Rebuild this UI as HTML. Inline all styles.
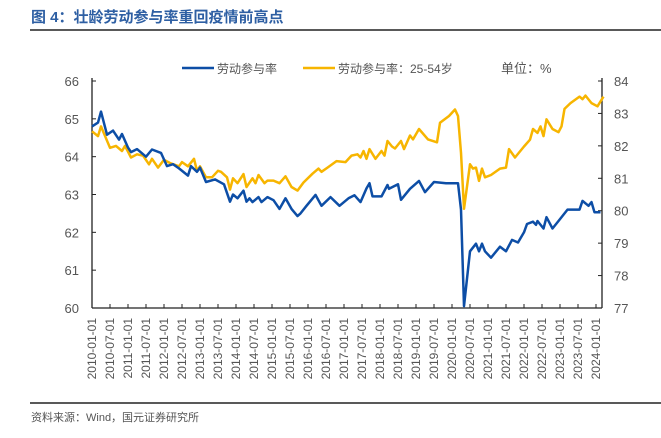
<!DOCTYPE html>
<html><head><meta charset="utf-8"><style>
body{margin:0;background:#fff;}
svg text{font-family:"Liberation Sans","Noto Sans CJK SC",sans-serif;}
</style></head><body>
<svg width="661" height="433" xmlns="http://www.w3.org/2000/svg">
<text x="31" y="22" font-size="15" font-weight="bold" fill="#2e5fa3">图 4：壮龄劳动参与率重回疫情前高点</text>
<line x1="30" y1="30" x2="661" y2="30" stroke="#222" stroke-width="1.5"/>
<g id="legend">
<line x1="182" y1="68" x2="214" y2="68" stroke="#0d4ea6" stroke-width="2.5"/>
<text x="217" y="73" font-size="12" fill="#555">劳动参与率</text>
<line x1="303" y1="68" x2="335" y2="68" stroke="#f7b500" stroke-width="2.5"/>
<text x="338" y="73" font-size="12" fill="#555">劳动参与率：25-54岁</text>
<text x="501" y="73" font-size="13" fill="#555">单位：%</text>
</g>
<g id="axes"></g>
<g id="series"></g>
<line x1="30" y1="403" x2="661" y2="403" stroke="#222" stroke-width="1.5"/>
<text x="31" y="421" font-size="11" fill="#555">资料来源：Wind，国元证券研究所</text>
</svg>
<script>
const leftTicks=[60,61,62,63,64,65,66];
const rightTicks=[77,78,79,80,81,82,83,84];
const xLabels=["2010-01-01","2010-07-01","2011-01-01","2011-07-01","2012-01-01","2012-07-01","2013-01-01","2013-07-01","2014-01-01","2014-07-01","2015-01-01","2015-07-01","2016-01-01","2016-07-01","2017-01-01","2017-07-01","2018-01-01","2018-07-01","2019-01-01","2019-07-01","2020-01-01","2020-07-01","2021-01-01","2021-07-01","2022-01-01","2022-07-01","2023-01-01","2023-07-01","2024-01-01"];
const totalMonths=[0,2,3,5,7,9,10,12,13,15,18,20,23,25,27,29,32,33,35,36,38,41,44,46,47,48.5,50.5,51.5,52.5,53.5,55.5,56.5,58.5,60.5,62.5,64.5,66.5,68.5,69.5,71.5,74.5,76.5,79.5,82.5,85.5,87.5,89.5,91.5,92.5,93.5,96.5,98.5,99,102,103,106,109,111,114,118,121,122,123,124,126,128,129,130,131,133,136,138,140,142,144,145,147,148,148.5,150.5,151.5,153.5,155.5,158.5,162.5,163.5,165.5,166.5,167.5,169.5];
const totalValues=[64.8,64.9,65.19,64.58,64.69,64.45,64.6,64.24,64.12,64.2,64.0,64.19,64.1,63.75,63.8,63.69,63.5,63.75,63.6,63.71,63.33,63.4,63.27,62.81,63.0,62.9,63.1,62.81,62.9,62.8,62.93,62.8,62.93,62.85,62.62,62.9,62.62,62.43,62.5,62.7,62.99,62.7,62.93,62.7,62.9,62.98,62.8,63.16,63.3,62.95,62.95,63.25,63.15,63.27,62.86,63.15,63.36,63.06,63.33,63.3,63.3,63.3,62.6,60.05,61.5,61.7,61.5,61.7,61.5,61.33,61.62,61.5,61.8,61.73,62.0,62.22,62.28,62.2,62.3,62.1,62.4,62.1,62.3,62.6,62.6,62.83,62.7,62.8,62.53,62.53];
const primeMonths=[0,2,3,6,8,10,11,13,15,17,19,20,22,24,26,29,30,32,34,35,36,38,40,42,43,45,46,47,48.5,50.5,51.5,53.5,54.5,55.5,57.5,58.5,60.5,62.5,64.5,66.5,68.5,70.5,73.5,75.5,76.5,78.5,81.5,84.5,86.5,88.5,89.5,90.5,91.5,92.5,94.5,96.5,97.5,98.5,100,101,103,104,106,107,109,112,115,116,119,121,122,123,124,126,127,128,129,130,131,133,136,138,139,141,144,146,147,148.5,149.5,150.5,151.5,153.5,155.5,156.5,157.5,159.5,162.5,163.5,164.5,166.5,168.5,170.5];
const primeValues=[82.45,82.3,82.6,81.94,82.0,81.84,82.0,81.64,81.74,81.7,81.43,81.6,81.33,81.57,81.47,81.37,81.5,81.37,81.6,81.23,81.37,81.03,81.03,81.23,81.2,81.03,80.65,81.0,80.85,81.13,80.73,81.0,80.85,81.1,80.85,80.93,80.93,80.85,81.06,80.73,80.62,80.87,81.14,81.3,81.2,81.33,81.53,81.5,81.7,81.74,81.64,81.84,81.6,81.9,81.6,81.84,81.7,82.15,81.98,81.92,82.15,81.9,82.32,82.2,82.52,82.2,82.11,82.71,82.92,83.12,82.92,81.79,80.06,81.43,81.3,81.33,80.92,81.3,81.03,81.1,81.3,81.33,81.9,81.64,81.98,82.19,82.52,82.4,82.6,82.3,82.82,82.52,82.42,82.6,83.14,83.32,83.52,83.44,83.55,83.32,83.22,83.52];

const X0=92,X1=602,YT=81,YB=308;
const xS=m=>X0+m*3.0;
const yL=v=>YB-(v-60)/(66-60)*(YB-YT);
const yR=v=>YB-(v-77)/(84-77)*(YB-YT);
const NS="http://www.w3.org/2000/svg";
const ax=document.getElementById('axes'),se=document.getElementById('series');
function mk(tag,attrs,parent){const e=document.createElementNS(NS,tag);for(const k in attrs)e.setAttribute(k,attrs[k]);parent.appendChild(e);return e;}

let e=mk('line',{x1:X0,y1:YT-3,x2:X0,y2:YB,stroke:'#222','stroke-width':1.3},ax);


e=mk('line',{x1:X1,y1:YT-3,x2:X1,y2:YB,stroke:'#222','stroke-width':1.3},ax);


e=mk('line',{x1:X0,y1:YB,x2:X1,y2:YB,stroke:'#222','stroke-width':1.3},ax);



leftTicks.forEach(v=>{
 const y=yL(v);
 let t=mk('line',{x1:X0,y1:y,x2:X0+4,y2:y,stroke:'#222','stroke-width':1},ax);
 
 
 let l=mk('text',{x:X0-13,y:y+5,'font-size':13,fill:'#555','text-anchor':'end'},ax);
 l.textContent=v;
 
 
});
rightTicks.forEach(v=>{
 const y=yR(v);
 let t=mk('line',{x1:X1-4,y1:y,x2:X1,y2:y,stroke:'#222','stroke-width':1},ax);
 
 
 let l=mk('text',{x:X1+12,y:y+5,'font-size':13,fill:'#555'},ax);
 l.textContent=v;
 
 
});
xLabels.forEach((s,i)=>{
 const x=xS(i*6);
 let t=mk('line',{x1:x,y1:YB,x2:x,y2:YB-4,stroke:'#222','stroke-width':1},ax);
 
 
 let l=mk('text',{x:x+4,y:318,'font-size':12,fill:'#555','text-anchor':'end',transform:`rotate(-90 ${x+4} 318)`},ax);
 l.textContent=s;
 
 
});
function path(ms,vs,ys){return ms.map((m,i)=>(i?'L':'M')+xS(m).toFixed(1)+','+ys(vs[i]).toFixed(1)).join(' ');}
let p=mk('path',{d:path(primeMonths,primeValues,yR),fill:'none',stroke:'#f7b500','stroke-width':2.5,'stroke-linejoin':'round'},se);


p=mk('path',{d:path(totalMonths,totalValues,yL),fill:'none',stroke:'#0d4ea6','stroke-width':2.5,'stroke-linejoin':'round'},se);


</script>
</body></html>
